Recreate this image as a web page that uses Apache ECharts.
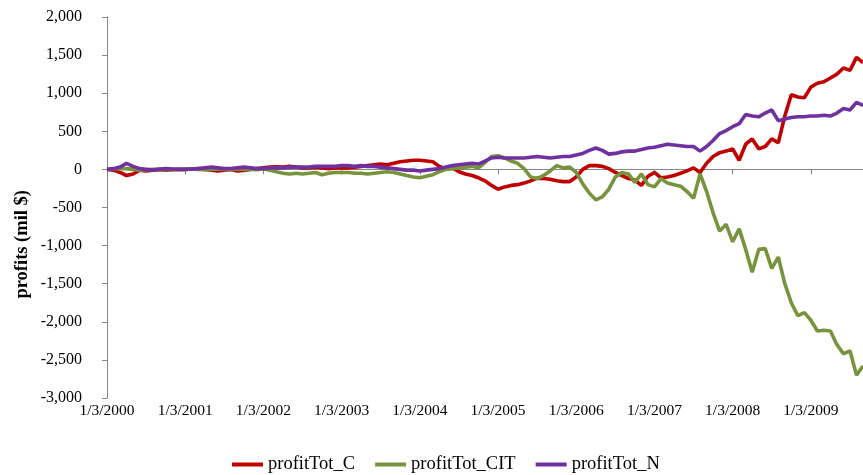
<!DOCTYPE html>
<html>
<head>
<meta charset="utf-8">
<script src="https://cdn.jsdelivr.net/npm/echarts@6/dist/echarts.min.js"></script>
<style>html,body{margin:0;padding:0;background:#fff;}#chart{width:863px;height:475px;}</style>
</head>
<body>
<div id="chart"></div>
<script>
// Monthly samples, Jan 2000 .. Sep 2009
var startYear = 2000;
var monthCount = 117;
var categories = [];
for (var i = 0; i < monthCount; i++) {
  var y = startYear + Math.floor(i / 12);
  var m = (i % 12) + 1;
  categories.push(m + '/3/' + y);
}
var yTicks = { min: -3000, max: 2000, interval: 500 };
var seriesNames = ['profitTot_C', 'profitTot_CIT', 'profitTot_N'];

var profitTot_C = [
  0, -10, -40, -80, -60, -10, -20, -10, 0, -10, -5, 0,
  0, 5, 10, 0, -10, -20, -10, 0, -20, -15, 0, 10,
  20, 30, 35, 30, 40, 30, 20, 20, 30, 20, 10, 20,
  20, 20, 30, 40, 50, 60, 70, 60, 80, 100, 110, 120,
  120, 110, 100, 40, 10, 20, -30, -60, -80, -110, -150, -210,
  -260, -230, -210, -200, -180, -150, -115, -120, -130, -150, -160, -160,
  -100, 0, 50, 50, 40, 10, -40, -80, -120, -140, -210, -90,
  -40, -110, -100, -80, -50, -20, 20, -40, 80, 170, 220, 240,
  270, 120, 330, 400, 270, 300, 400, 350, 700, 980, 950, 940,
  1080, 1130, 1150, 1200, 1250, 1330, 1300, 1470, 1400
];
var profitTot_CIT = [
  0, 5, 10, 10, 0, -10, -5, 0, 0, -5, 0, 0,
  0, 5, 0, -5, 0, 5, 0, 0, 5, 0, 0, -5,
  10, -10, -30, -50, -60, -50, -60, -50, -40, -70, -50, -40,
  -40, -40, -50, -50, -60, -50, -40, -30, -40, -60, -80, -100,
  -110, -90, -70, -30, 0, 10, 20, 30, 40, 20, 90, 170,
  180, 150, 110, 80, 10, -100, -120, -80, -20, 50, 20, 30,
  -40, -190, -310, -400, -360, -260, -100, -40, -60, -170, -60, -200,
  -230, -120, -180, -200, -220, -290, -380, -60, -290, -570, -810, -720,
  -950, -780, -1050, -1350, -1050, -1040, -1300, -1150, -1500, -1750, -1920, -1880,
  -1980, -2120, -2110, -2120, -2300, -2420, -2380, -2700, -2580
];
var profitTot_N = [
  0, 10, 30, 80, 40, 10, 0, -10, 0, 10, 5, 0,
  0, 5, 10, 20, 30, 20, 10, 10, 20, 30, 20, 10,
  10, 20, 20, 20, 30, 30, 30, 30, 40, 40, 40, 40,
  50, 50, 40, 50, 40, 40, 30, 20, 10, 0, -10, -10,
  -20, -10, 0, 10, 30, 50, 60, 70, 80, 70, 110, 150,
  160, 150, 150, 150, 150, 160, 170, 160, 150, 160, 170, 170,
  190, 210, 250, 280, 250, 200, 210, 230, 240, 240, 260, 280,
  290, 310, 330, 320, 310, 300, 300, 240, 300, 380, 470, 510,
  560, 600, 720, 700, 690, 740, 780, 640, 660, 680, 690, 690,
  700, 700, 710, 700, 740, 800, 780, 880, 840
];
var colors = ['#C00000', '#77933C', '#7030A0'];

var font = 'Liberation Serif';
var chart = echarts.init(document.getElementById('chart'), null, { renderer: 'canvas' });
function fmt(v) {
  var s = Math.abs(v).toString().replace(/\B(?=(\d{3})+(?!\d))/g, ',');
  return (v < 0 ? '-' : '') + s;
}
var dataSets = [profitTot_C, profitTot_CIT, profitTot_N];
var series = dataSets.map(function (d, i) {
  return {
    name: seriesNames[i],
    type: 'line',
    data: d,
    xAxisIndex: 0,
    showSymbol: false,
    symbol: 'none',
    lineStyle: { width: 3.6, color: colors[i] },
    itemStyle: { color: colors[i] },
    z: 2 + i
  };
});
chart.setOption({
  animation: false,
  backgroundColor: '#ffffff',
  grid: { left: 107, right: 0, top: 17, bottom: 77, containLabel: false },
  xAxis: [
    {
      type: 'category',
      data: categories,
      boundaryGap: false,
      axisLine: { onZero: true, lineStyle: { color: '#868686', width: 1 } },
      axisTick: { show: true, interval: 11, length: 5, lineStyle: { color: '#868686' } },
      axisLabel: { show: false },
      splitLine: { show: false }
    },
    {
      type: 'category',
      data: categories,
      boundaryGap: false,
      position: 'bottom',
      axisLine: { show: false, onZero: false },
      axisTick: { show: false },
      axisLabel: { show: true, interval: 11, margin: 5, color: '#000', fontFamily: font, fontSize: 15.5 },
      splitLine: { show: false }
    }
  ],
  yAxis: {
    type: 'value',
    min: yTicks.min,
    max: yTicks.max,
    interval: yTicks.interval,
    axisLine: { show: true, lineStyle: { color: '#868686', width: 1 } },
    axisTick: { show: true, length: 5, lineStyle: { color: '#868686' } },
    axisLabel: { margin: 25, color: '#000', fontFamily: font, fontSize: 16, formatter: fmt },
    splitLine: { show: false }
  },
  legend: {
    data: seriesNames,
    left: 227,
    top: 450,
    icon: 'rect',
    itemWidth: 31,
    itemHeight: 4,
    itemGap: 20,
    textStyle: { fontFamily: font, fontSize: 18.5, color: '#000' }
  },
  graphic: [{
    type: 'text',
    left: 13,
    top: 190,
    rotation: Math.PI / 2,
    style: { text: 'profits (mil $)', font: 'bold 18.5px "Liberation Serif"', fill: '#000' }
  }],
  series: series
});
</script>
</body>
</html>
